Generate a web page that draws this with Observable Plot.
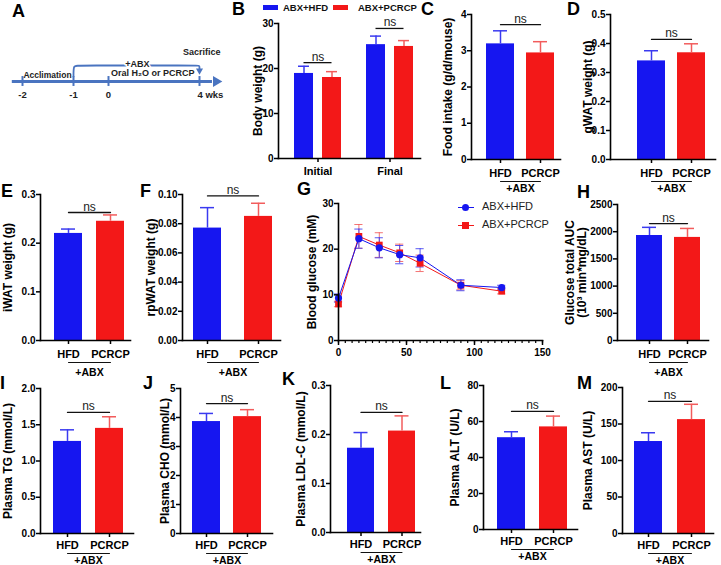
<!DOCTYPE html>
<html><head><meta charset="utf-8">
<script src="https://cdn.jsdelivr.net/npm/d3@7"></script>
<script src="https://cdn.jsdelivr.net/npm/@observablehq/plot@0.6"></script>
<style>
html,body{margin:0;padding:0;background:#fff}
#fig{position:relative;width:721px;height:565px;overflow:hidden;background:#fff;font-family:"Liberation Sans",Arial,sans-serif}
.letter{position:absolute;font-weight:bold;font-size:18px;line-height:1;color:#000}
.leg{position:absolute;white-space:nowrap;line-height:1}
</style></head>
<body><div id="fig"></div>
<script>
// ---------------- DATA ----------------
const groups = ["HFD", "PCRCP"];
const groupNote = "+ABX";
const seriesNames = ["ABX+HFD", "ABX+PCRCP"];
const nsText = "ns";

// A: timeline
const timelineWeeks = [-2, -1, 0, 4];
const timelineTickLabels = ["-2", "-1", "0", "4 wks"];
const timelineNotes = ["Acclimation", "+ABX", "Oral H₂O or PCRCP", "Sacrifice"];

// B: body weight
const bwTimes = ["Initial", "Final"];
const bwHFD = [18.9, 25.3];
const bwHFDerr = [1.6, 1.9];
const bwPCRCP = [18.0, 24.9];
const bwPCRCPerr = [1.3, 1.3];
const bwNs = [21.3, 28.9];
const bwTicks = [0, 10, 20, 30];

// C: food intake
const foodMean = [3.19, 2.94];
const foodErr = [0.36, 0.31];
const foodNs = 3.72;
const foodTicks = [0, 1, 2, 3, 4];

// D: gWAT
const gwatMean = [0.340, 0.368];
const gwatErr = [0.035, 0.031];
const gwatNs = 0.414;
const gwatTicks = [0, 0.1, 0.2, 0.3, 0.4, 0.5];

// E: iWAT
const iwatMean = [0.220, 0.245];
const iwatErr = [0.009, 0.013];
const iwatNs = 0.263;
const iwatTicks = [0, 0.1, 0.2, 0.3];

// F: rpWAT
const rpwatMean = [0.077, 0.085];
const rpwatErr = [0.014, 0.009];
const rpwatNs = 0.099;
const rpwatTicks = [0, 0.02, 0.04, 0.06, 0.08, 0.10];

// G: glucose tolerance
const ogttTime = [0, 15, 30, 45, 60, 90, 120];
const ogttHFD = [9.3, 22.3, 20.3, 18.8, 18.1, 12.1, 11.6];
const ogttHFDerr = [0.9, 2.1, 2.2, 2.0, 2.0, 1.2, 0.5];
const ogttPCRCP = [8.0, 22.8, 20.9, 19.2, 16.9, 12.1, 10.8];
const ogttPCRCPerr = [0.6, 2.6, 2.7, 1.9, 1.8, 1.0, 0.6];
const ogttYTicks = [0, 10, 20, 30];
const ogttXTicks = [0, 50, 100, 150];
const ogttXMinor = d3.range(0, 151, 5);

// H: AUC
const aucMean = [1930, 1895];
const aucErr = [150, 165];
const aucNs = 2150;
const aucTicks = [0, 500, 1000, 1500, 2000, 2500];

// I: TG
const tgMean = [1.27, 1.45];
const tgErr = [0.16, 0.16];
const tgNs = 1.67;
const tgTicks = [0, 0.5, 1.0, 1.5, 2.0];

// J: CHO
const choMean = [3.86, 4.03];
const choErr = [0.28, 0.24];
const choNs = 4.48;
const choTicks = [0, 1, 2, 3, 4, 5];

// K: LDL-C
const ldlMean = [0.172, 0.207];
const ldlErr = [0.032, 0.031];
const ldlNs = 0.245;
const ldlTicks = [0, 0.1, 0.2, 0.3];

// L: ALT
const altMean = [51, 57];
const altErr = [3.3, 6];
const altNs = 65.6;
const altTicks = [0, 20, 40, 60, 80];

// M: AST
const astMean = [126, 156];
const astErr = [12, 21];
const astNs = 181;
const astTicks = [0, 50, 100, 150, 200];

// ---------------- STYLE / LAYOUT ----------------
const FONT = '"Liberation Sans", Arial, sans-serif';
const blue = "#1616f0", red = "#f31818", blueErr = "#3a3af0", redErr = "#f25c5c";
const steel = "#4a74c0";
const baseStyle = {fontFamily: FONT, fontWeight: "bold", fontSize: "10px", overflow: "visible", background: "transparent", maxWidth: "none", color: "#000"};
const fig = document.getElementById("fig");
function place(node, left, top) {
  node.style.position = "absolute";
  node.style.left = left + "px";
  node.style.top = top + "px";
  fig.appendChild(node);
}
function letter(ch, left, top) {
  const d = document.createElement("div");
  d.className = "letter"; d.textContent = ch;
  d.style.left = left + "px"; d.style.top = top + "px";
  fig.appendChild(d);
}
const f1 = d3.format(".1f"), f2 = d3.format(".2f"), f0 = d3.format("d");

// ---------------- PANEL A ----------------
{
  const node = Plot.plot({
    width: 235, height: 110, marginLeft: 0, marginRight: 0, marginTop: 0, marginBottom: 0,
    style: baseStyle,
    x: {type: "linear", domain: timelineWeeks, range: [22, 73, 108, 199], axis: null},
    y: {domain: [0, 1], range: [81, 65], axis: null},
    marks: [
      Plot.ruleY([0], {x1: -2.2, x2: 4.57, stroke: steel, strokeWidth: 3}),
      Plot.dot([4.73], {x: d => d, y: 0, symbol: "triangle", rotate: 90, r: 4, fill: steel, stroke: "none"}),
      Plot.ruleX(timelineWeeks, {x: d => d, y1: -0.31, y2: 0.31, stroke: steel, strokeWidth: 2}),
      Plot.text(timelineWeeks.slice(0, 3), {x: d => d, y: -0.84, text: (d, i) => timelineTickLabels[i], fontSize: 9.5, fill: "#222"}),
      Plot.text([timelineWeeks[3]], {x: d => d, y: -0.84, text: () => timelineTickLabels[3], textAnchor: "start", dx: -2, fontSize: 9.5, fill: "#222"}),
      Plot.line([{w: -1, y: 0.31}, {w: -1, y: 1}, {w: -0.9, y: 1}, {w: 3.9, y: 1}, {w: 4, y: 1}, {w: 4, y: 0.8}],
        {x: "w", y: "y", curve: "basis", stroke: steel, strokeWidth: 1.8}),
      Plot.dot([4], {x: d => d, y: 0.68, symbol: "triangle", rotate: 180, r: 2.6, fill: steel, stroke: "none"}),
      Plot.text([timelineNotes[0]], {x: -1.51, y: 0.36, fontSize: 8.5, fill: "#222"}),
      Plot.text([timelineNotes[1]], {x: 1.27, y: 1.08, fontSize: 9, fill: "#222", stroke: "white", strokeWidth: 3, paintOrder: "stroke"}),
      Plot.text([timelineNotes[2]], {x: 1.95, y: 0.5, fontSize: 9, fill: "#222"}),
      Plot.text([timelineNotes[3]], {x: 4.1, y: 1.84, fontSize: 9, fill: "#222"})
    ]
  });
  place(node, 0, 0);
}

// y-axis title, centred on the frame's left edge
const yTitle = (label, offset) => Plot.text([label], {frameAnchor: "left", textAnchor: "middle", lineAnchor: "middle", rotate: -90, dx: -offset, fontSize: 12, lineHeight: 1});

// ---------------- PANEL B (grouped) ----------------
{
  const axisX = 278, yTop = 23, y0 = 158, xEnd = 420;
  const ML = 75, MT = 32, MB = 40, MR = 12;
  const left = axisX - ML, top = yTop - MT;
  const width = xEnd - left + MR, height = y0 - top + MB;
  const band = 47, bw = 19, shift = band - bw;
  const hfd = bwTimes.map((t, i) => ({t, v: bwHFD[i], e: bwHFDerr[i]}));
  const pcr = bwTimes.map((t, i) => ({t, v: bwPCRCP[i], e: bwPCRCPerr[i]}));
  const ns = bwTimes.map((t, i) => ({t, y: bwNs[i]}));
  const capIn = (bw - 11) / 2;
  const node = Plot.plot({
    width, height, marginLeft: ML, marginTop: MT, marginRight: MR, marginBottom: MB,
    style: baseStyle,
    x: {type: "band", domain: bwTimes, range: [294 - left, 413 - left], paddingInner: 1 - band / 72, paddingOuter: 0, round: false, axis: null},
    y: {domain: [0, 30], axis: null},
    marks: [
      Plot.barY(hfd, {x: "t", y: "v", fill: blue, insetRight: shift}),
      Plot.barY(pcr, {x: "t", y: "v", fill: red, insetLeft: shift}),
      Plot.ruleX(hfd, {x: "t", y1: "v", y2: d => d.v + d.e, dx: -shift / 2, stroke: blueErr, strokeWidth: 1.5}),
      Plot.ruleX(pcr, {x: "t", y1: "v", y2: d => d.v + d.e, dx: shift / 2, stroke: redErr, strokeWidth: 1.5}),
      Plot.tickY(hfd, {x: "t", y: d => d.v + d.e, insetLeft: capIn, insetRight: shift + capIn, stroke: blueErr, strokeWidth: 1.5}),
      Plot.tickY(pcr, {x: "t", y: d => d.v + d.e, insetLeft: shift + capIn, insetRight: capIn, stroke: redErr, strokeWidth: 1.5}),
      Plot.tickY(ns, {x: "t", y: "y", insetLeft: bw / 2, insetRight: bw / 2, stroke: "#111", strokeWidth: 1.3}),
      Plot.text(ns, {x: "t", y: "y", text: () => nsText, dy: -2, lineAnchor: "bottom", fontWeight: "normal", fontSize: 12, fill: "#222"}),
      Plot.frame({anchor: "left", strokeWidth: 1.6}),
      Plot.frame({anchor: "bottom", strokeWidth: 1.6}),
      Plot.axisY({ticks: bwTicks, tickFormat: f0, tickSize: 4, tickPadding: 1, strokeWidth: 1.5, label: null, fontSize: 10}),
      Plot.axisX({tickSize: 4, tickPadding: 5, strokeWidth: 1.5, label: null, fontSize: 11}),
      yTitle("Body weight (g)", axisX - 258)
    ]
  });
  place(node, left, top);
  // legend
  const items = [[263, 283, blue, seriesNames[0]], [333, 358, red, seriesNames[1]]];
  for (const [sx, tx, c, name] of items) {
    const s = document.createElement("div");
    s.className = "leg";
    s.style.left = sx + "px"; s.style.top = "5px";
    s.style.width = "15px"; s.style.height = "5px"; s.style.background = c;
    fig.appendChild(s);
    const t = document.createElement("div");
    t.className = "leg"; t.textContent = name;
    t.style.left = tx + "px"; t.style.top = "3px";
    t.style.fontSize = "9.5px"; t.style.fontWeight = "bold"; t.style.color = "#111";
    fig.appendChild(t);
  }
}

// ---------------- BAR PANELS ----------------
function barPanel(p) {
  const ML = 75, MT = 32, MB = 40, MR = 12;
  const left = p.axisX - ML, top = p.yTop - MT;
  const width = p.xEnd - left + MR, height = p.y0 - top + MB;
  const data = groups.map((g, i) => ({g, v: p.mean[i], e: p.err[i]}));
  const hfd = data.slice(0, 1), pcr = data.slice(1, 2);
  const step = p.bars[1] - p.bars[0];
  const capIn = (p.bw - 14) / 2;
  const pair = groups.map(g => ({g}));
  const node = Plot.plot({
    width, height, marginLeft: ML, marginTop: MT, marginRight: MR, marginBottom: MB,
    style: baseStyle,
    x: {type: "band", domain: groups, range: [p.bars[0] - left, p.bars[1] + p.bw - left], paddingInner: 1 - p.bw / step, paddingOuter: 0, round: false, axis: null},
    y: {domain: [0, p.ticks[p.ticks.length - 1]], axis: null},
    marks: [
      Plot.barY(hfd, {x: "g", y: "v", fill: blue}),
      Plot.barY(pcr, {x: "g", y: "v", fill: red}),
      Plot.ruleX(hfd, {x: "g", y1: "v", y2: d => d.v + d.e, stroke: blueErr, strokeWidth: 1.5}),
      Plot.ruleX(pcr, {x: "g", y1: "v", y2: d => d.v + d.e, stroke: redErr, strokeWidth: 1.5}),
      Plot.tickY(hfd, {x: "g", y: d => d.v + d.e, insetLeft: capIn, insetRight: capIn, stroke: blueErr, strokeWidth: 1.5}),
      Plot.tickY(pcr, {x: "g", y: d => d.v + d.e, insetLeft: capIn, insetRight: capIn, stroke: redErr, strokeWidth: 1.5}),
      Plot.frame({anchor: "left", strokeWidth: 1.6}),
      Plot.frame({anchor: "bottom", strokeWidth: 1.6}),
      Plot.axisY({ticks: p.ticks, tickFormat: p.fmt, tickSize: 4, tickPadding: 1, strokeWidth: 1.5, label: null, fontSize: 10}),
      Plot.axisX({tickSize: 4, tickPadding: p.lab[0], strokeWidth: 1.5, label: null, fontSize: 11}),
      Plot.line(pair, {x: "g", y: () => 0, dy: p.lab[1], stroke: "#111", strokeWidth: 1}),
      Plot.text([groupNote], {x: () => groups[0], y: () => 0, dx: step / 2, dy: p.lab[2], fontSize: 10.5}),
      Plot.line(pair, {x: "g", y: () => p.ns, stroke: "#111", strokeWidth: 1.3}),
      Plot.text([nsText], {x: () => groups[0], y: () => p.ns, dx: step / 2, dy: -2, lineAnchor: "bottom", fontWeight: "normal", fontSize: 12, fill: "#222"}),
      yTitle(p.label, p.axisX - p.labelX)
    ]
  });
  place(node, left, top);
}

const topLab = [6, 22, 29], midLab = [6, 22, 32], botLab = [4, 20, 27];
barPanel({axisX: 471, yTop: 14, y0: 159, xEnd: 560, bars: [486, 526], bw: 28, mean: foodMean, err: foodErr, ns: foodNs, ticks: foodTicks, fmt: f0, label: "Food intake (g/d/mouse)", labelX: 448, lab: topLab});
barPanel({axisX: 610, yTop: 14, y0: 159, xEnd: 715, bars: [637, 677], bw: 28, mean: gwatMean, err: gwatErr, ns: gwatNs, ticks: gwatTicks, fmt: f1, label: "gWAT weight (g)", labelX: 588, lab: topLab});
barPanel({axisX: 40, yTop: 194, y0: 340, xEnd: 130, bars: [54, 96], bw: 28, mean: iwatMean, err: iwatErr, ns: iwatNs, ticks: iwatTicks, fmt: f1, label: "iWAT weight (g)", labelX: 8, lab: midLab});
barPanel({axisX: 182, yTop: 194, y0: 340, xEnd: 280, bars: [193, 244], bw: 28, mean: rpwatMean, err: rpwatErr, ns: rpwatNs, ticks: rpwatTicks, fmt: f2, label: "rpWAT weight (g)", labelX: 151, lab: midLab});
barPanel({axisX: 617, yTop: 204, y0: 340, xEnd: 708, bars: [636, 674], bw: 26, mean: aucMean, err: aucErr, ns: aucNs, ticks: aucTicks, fmt: f0, label: "Glucose total AUC\n(10³ min*mg/dL)", labelX: 576, lab: midLab});
barPanel({axisX: 40, yTop: 388, y0: 533, xEnd: 133, bars: [53, 95], bw: 28, mean: tgMean, err: tgErr, ns: tgNs, ticks: tgTicks, fmt: f1, label: "Plasma TG (mmol/L)", labelX: 8, lab: botLab});
barPanel({axisX: 180, yTop: 388, y0: 533, xEnd: 272, bars: [192, 233], bw: 28, mean: choMean, err: choErr, ns: choNs, ticks: choTicks, fmt: f0, label: "Plasma CHO (mmol/L)", labelX: 165, lab: botLab});
barPanel({axisX: 330, yTop: 385, y0: 532, xEnd: 420, bars: [347, 388], bw: 27, mean: ldlMean, err: ldlErr, ns: ldlNs, ticks: ldlTicks, fmt: f1, label: "Plasma LDL-C (mmol/L)", labelX: 301, lab: botLab});
barPanel({axisX: 483, yTop: 385, y0: 529, xEnd: 577, bars: [497, 539], bw: 28, mean: altMean, err: altErr, ns: altNs, ticks: altTicks, fmt: f0, label: "Plasma ALT (U/L)", labelX: 455, lab: botLab});
barPanel({axisX: 622, yTop: 387, y0: 533, xEnd: 713, bars: [634, 677], bw: 28, mean: astMean, err: astErr, ns: astNs, ticks: astTicks, fmt: f0, label: "Plasma AST (U/L)", labelX: 588, lab: botLab});

// ---------------- PANEL G ----------------
{
  const axisX = 338, yTop = 203, y0 = 340, xEnd = 542;
  const ML = 75, MT = 32, MB = 30, MR = 20;
  const left = axisX - ML, top = yTop - MT;
  const width = xEnd - left + MR, height = y0 - top + MB;
  const hfd = ogttTime.map((t, i) => ({t, v: ogttHFD[i], e: ogttHFDerr[i]}));
  const pcr = ogttTime.map((t, i) => ({t, v: ogttPCRCP[i], e: ogttPCRCPerr[i]}));
  const cap = 3;
  const errMarks = (d, c) => [
    Plot.ruleX(d, {x: "t", y1: r => r.v - r.e, y2: r => r.v + r.e, stroke: c, strokeWidth: 1, strokeOpacity: 0.85}),
    Plot.ruleY(d, {x1: r => r.t - cap, x2: r => r.t + cap, y: r => r.v + r.e, stroke: c, strokeWidth: 1, strokeOpacity: 0.85}),
    Plot.ruleY(d, {x1: r => r.t - cap, x2: r => r.t + cap, y: r => r.v - r.e, stroke: c, strokeWidth: 1, strokeOpacity: 0.85})
  ];
  const node = Plot.plot({
    width, height, marginLeft: ML, marginTop: MT, marginRight: MR, marginBottom: MB,
    style: baseStyle,
    x: {domain: [0, 150], axis: null},
    y: {domain: [0, 30], axis: null},
    marks: [
      ...errMarks(pcr, redErr),
      ...errMarks(hfd, blueErr),
      Plot.line(pcr, {x: "t", y: "v", stroke: red, strokeWidth: 1}),
      Plot.line(hfd, {x: "t", y: "v", stroke: blue, strokeWidth: 1}),
      Plot.dot(pcr, {x: "t", y: "v", symbol: "square", r: 3.8, fill: red, stroke: "none"}),
      Plot.dot(hfd, {x: "t", y: "v", symbol: "circle", r: 3.6, fill: blue, stroke: "none"}),
      Plot.frame({anchor: "left", strokeWidth: 1.6}),
      Plot.frame({anchor: "bottom", strokeWidth: 1.6}),
      Plot.axisY({ticks: ogttYTicks, tickFormat: f0, tickSize: 4, tickPadding: 1, strokeWidth: 1.5, label: null, fontSize: 10}),
      Plot.axisX({ticks: ogttXMinor, tickFormat: () => "", tickSize: 3, strokeWidth: 1.2, label: null}),
      Plot.axisX({ticks: ogttXTicks, tickFormat: f0, tickSize: 5, tickPadding: 3, strokeWidth: 1.5, label: null, fontSize: 10}),
      yTitle("Blood glucose (mM)", axisX - 312)
    ]
  });
  place(node, left, top);
  // legend
  const items = [[207, blue, "circle", seriesNames[0]], [225, red, "square", seriesNames[1]]];
  for (const [cy, c, shape, name] of items) {
    const l = document.createElement("div");
    l.className = "leg";
    l.style.left = "458px"; l.style.top = (cy - 0.5) + "px"; l.style.width = "16px"; l.style.height = "1px"; l.style.background = c;
    fig.appendChild(l);
    const m = document.createElement("div");
    m.className = "leg";
    m.style.left = "462px"; m.style.top = (cy - 3.5) + "px"; m.style.width = "7px"; m.style.height = "7px"; m.style.background = c;
    if (shape === "circle") m.style.borderRadius = "50%";
    fig.appendChild(m);
    const t = document.createElement("div");
    t.className = "leg"; t.textContent = name;
    t.style.left = "482px"; t.style.top = (cy - 6) + "px"; t.style.fontSize = "11px"; t.style.color = "#222";
    fig.appendChild(t);
  }
}

// ---------------- LETTERS ----------------
const letters = [["A", 12, 2], ["B", 232, 0], ["C", 421, 0], ["D", 567, 0], ["E", 1, 182], ["F", 140, 182], ["G", 297, 180], ["H", 577, 183], ["I", 0, 374], ["J", 143, 374], ["K", 282, 370], ["L", 440, 374], ["M", 577, 374]];
for (const [ch, x, y] of letters) letter(ch, x, y);
</script>
</body></html>
